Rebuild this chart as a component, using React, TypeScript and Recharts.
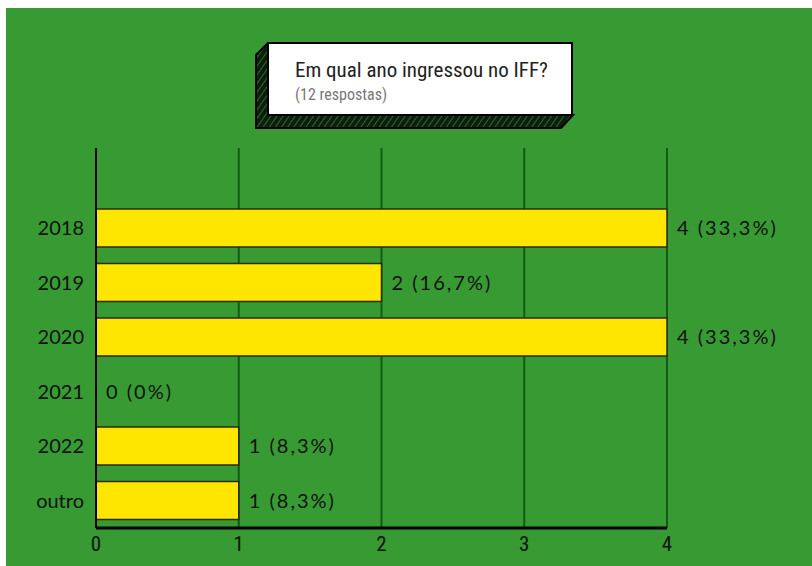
import React from "react";
import { BarChart, Bar, XAxis, YAxis, CartesianGrid, LabelList } from "recharts";

const anos = ["2018", "2019", "2020", "2021", "2022", "outro"];
const respostas = [4, 2, 4, 0, 1, 1];
const percentuais = ["33,3%", "16,7%", "33,3%", "0%", "8,3%", "8,3%"];
const xTicks = [0, 1, 2, 3, 4];

const data = anos.map((ano, i) => ({
  ano,
  valor: respostas[i],
  rotulo: `${respostas[i]} (${percentuais[i]})`,
}));

const narrow = "'Liberation Sans Narrow', 'Roboto Condensed', Roboto, sans-serif";

function TitleBox() {
  // white card with a hatched 3D edge on the left and bottom
  return (
    <svg width={360} height={95} style={{ position: "absolute", left: 249, top: 34 }}>
      <defs>
        <pattern id="hatch" width="5" height="5" patternUnits="userSpaceOnUse" patternTransform="rotate(35)">
          <rect width="5" height="5" fill="#0c1f0c" />
          <line x1="0" y1="0" x2="0" y2="5" stroke="#3c7d36" strokeWidth="1.5" />
        </pattern>
      </defs>
      <polygon points="13,1 1,13 1,86 306,86 318,73 13,73" fill="url(#hatch)" stroke="#000" strokeWidth="2" />
      <rect x={13} y={1} width={304} height={72} fill="#fff" stroke="#000" strokeWidth="2" />
      <text x={40} y={35} fontFamily={narrow} fontSize={21} fill="#222">
        Em qual ano ingressou no IFF?
      </text>
      <text x={40} y={58} fontFamily={narrow} fontSize={16} fill="#777">
        (12 respostas)
      </text>
    </svg>
  );
}

function BarLabel(props: any) {
  const { x, y, width, height, value } = props;
  return (
    <text
      x={Number(x) + Number(width) + 10}
      y={Number(y) + Number(height) / 2}
      dy="0.36em"
      fill="#111"
      fontSize={20}
      letterSpacing={2}
      fontFamily="Lato, sans-serif"
    >
      {value}
    </text>
  );
}

export default function App() {
  return (
    <div style={{ position: "absolute", left: 6, top: 8, width: 806, height: 558, background: "#389a32" }}>
      <BarChart
        width={806}
        height={558}
        data={data}
        layout="vertical"
        margin={{ top: 140, right: 145, left: 0, bottom: 8 }}
      >
        <CartesianGrid horizontal={false} stroke="#0f5e12" strokeWidth={2} />
        <XAxis
          type="number"
          domain={[0, 4]}
          ticks={xTicks}
          height={30}
          tickLine={false}
          axisLine={{ stroke: "#000", strokeWidth: 3 }}
          tick={{ fill: "#111", fontSize: 21, fontFamily: narrow }}
          tickMargin={2}
        />
        <YAxis
          type="category"
          dataKey="ano"
          width={90}
          padding={{ top: 53, bottom: 0 }}
          tickLine={false}
          axisLine={{ stroke: "#000", strokeWidth: 2 }}
          tick={{ fill: "#111", fontSize: 20, fontFamily: "Lato, sans-serif" }}
          tickMargin={6}
        />
        <Bar
          dataKey="valor"
          fill="#ffe600"
          stroke="#2a2a10"
          strokeWidth={1.5}
          barSize={38}
          minPointSize={0.01}
          isAnimationActive={false}
        >
          <LabelList dataKey="rotulo" content={BarLabel} />
        </Bar>
      </BarChart>
      <TitleBox />
    </div>
  );
}
